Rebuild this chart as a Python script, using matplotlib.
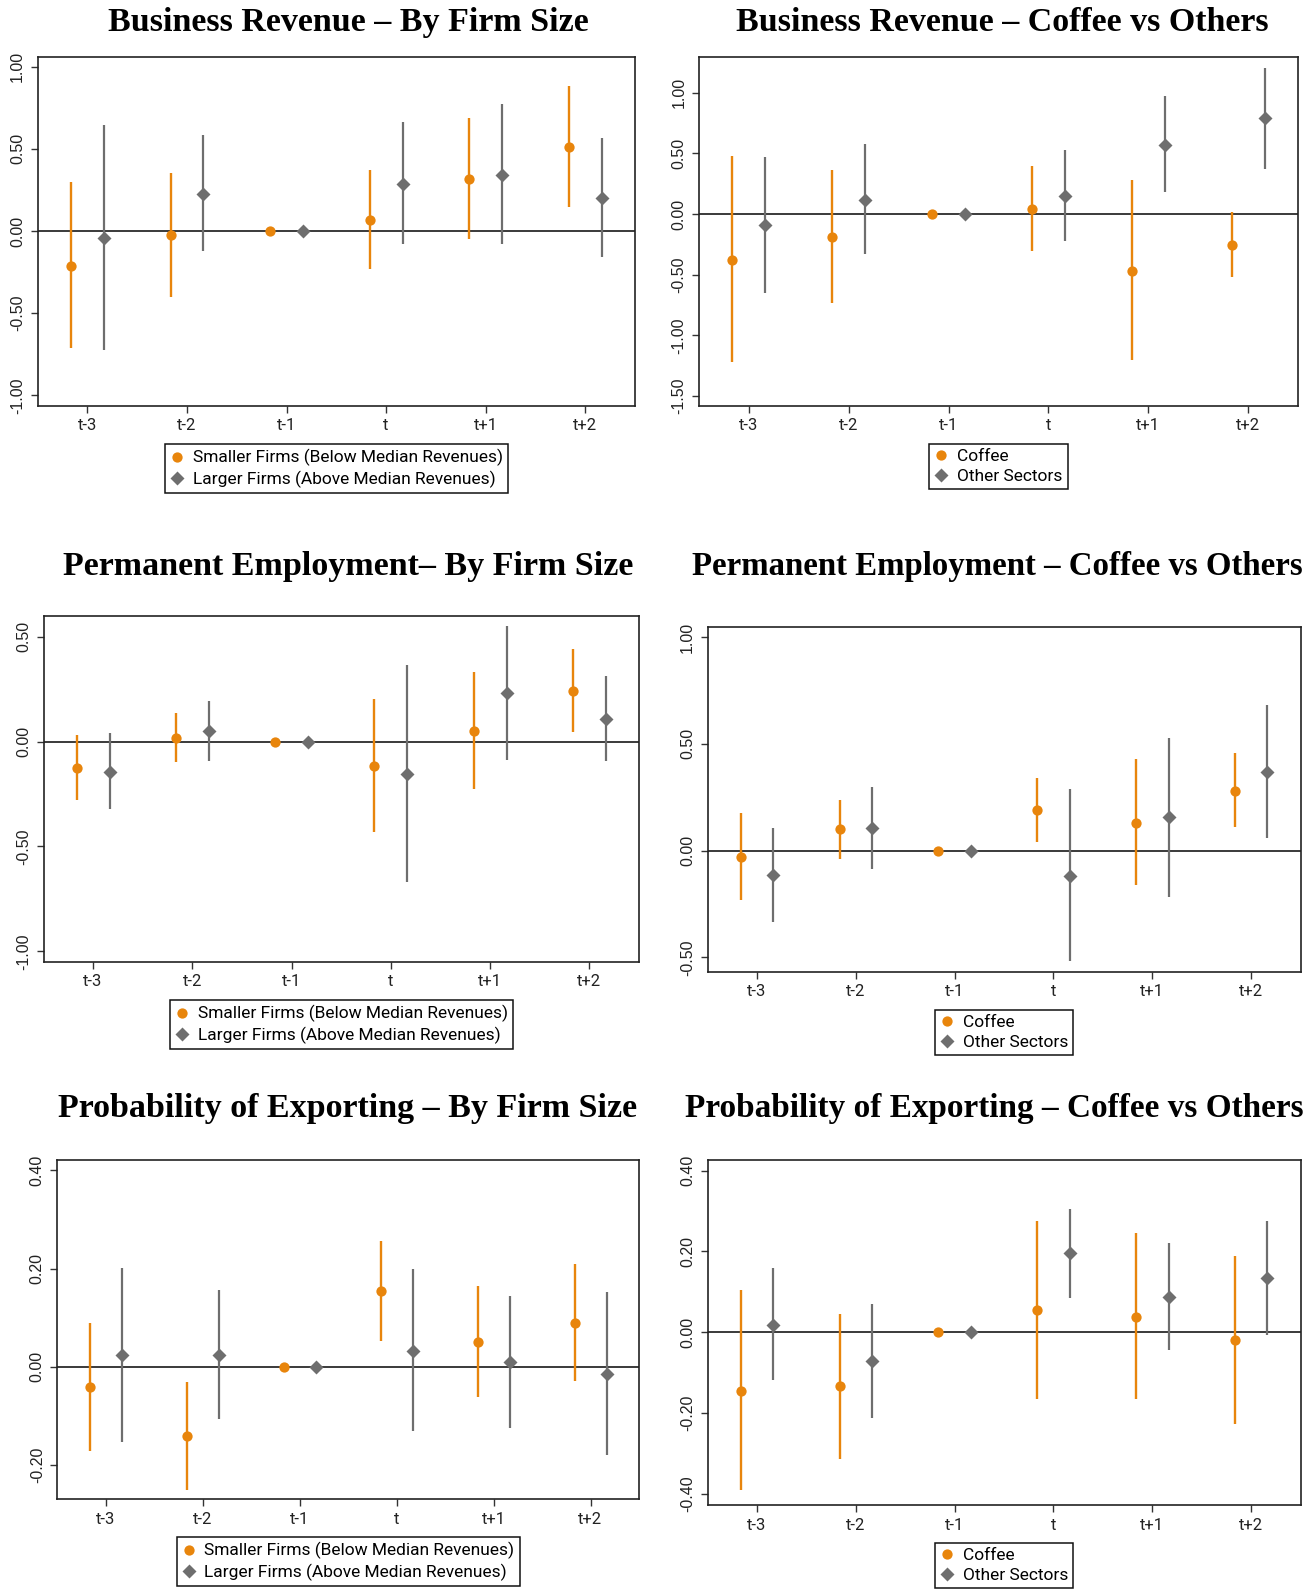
"""Event-study coefficients: revenue, permanent employment and exporting, by firm size and by sector."""

import numpy as np
import matplotlib.pyplot as plt

plt.rcParams["axes.unicode_minus"] = False

periods = ["t-3", "t-2", "t-1", "t", "t+1", "t+2"]
size_labels = ["Smaller Firms (Below Median Revenues)", "Larger Firms (Above Median Revenues)"]
sector_labels = ["Coffee", "Other Sectors"]

# Business revenue, by firm size
rev_small = [-0.211, -0.026, 0.0, 0.065, 0.316, 0.513]
rev_small_lo = [-0.714, -0.400, 0.0, -0.233, -0.047, 0.148]
rev_small_hi = [0.300, 0.351, 0.0, 0.369, 0.686, 0.882]
rev_large = [-0.041, 0.227, 0.0, 0.288, 0.343, 0.201]
rev_large_lo = [-0.724, -0.122, 0.0, -0.081, -0.077, -0.160]
rev_large_hi = [0.645, 0.584, 0.0, 0.661, 0.771, 0.566]

# Business revenue, coffee vs others
rev_coffee = [-0.376, -0.190, 0.0, 0.044, -0.467, -0.258]
rev_coffee_lo = [-1.223, -0.731, 0.0, -0.302, -1.203, -0.522]
rev_coffee_hi = [0.478, 0.360, 0.0, 0.398, 0.280, 0.016]
rev_other = [-0.093, 0.118, 0.0, 0.148, 0.569, 0.788]
rev_other_lo = [-0.648, -0.327, 0.0, -0.220, 0.184, 0.374]
rev_other_hi = [0.470, 0.577, 0.0, 0.525, 0.970, 1.206]

# Permanent employment, by firm size
emp_small = [-0.124, 0.019, 0.0, -0.114, 0.052, 0.242]
emp_small_lo = [-0.277, -0.095, 0.0, -0.429, -0.224, 0.045]
emp_small_hi = [0.032, 0.138, 0.0, 0.204, 0.331, 0.440]
emp_large = [-0.143, 0.049, 0.0, -0.154, 0.231, 0.110]
emp_large_lo = [-0.320, -0.094, 0.0, -0.671, -0.087, -0.094]
emp_large_hi = [0.040, 0.192, 0.0, 0.366, 0.550, 0.313]

# Permanent employment, coffee vs others
emp_coffee = [-0.031, 0.100, 0.0, 0.189, 0.129, 0.281]
emp_coffee_lo = [-0.232, -0.037, 0.0, 0.042, -0.162, 0.112]
emp_coffee_hi = [0.176, 0.239, 0.0, 0.340, 0.427, 0.456]
emp_other = [-0.115, 0.105, 0.0, -0.117, 0.156, 0.368]
emp_other_lo = [-0.332, -0.084, 0.0, -0.518, -0.215, 0.061]
emp_other_hi = [0.106, 0.298, 0.0, 0.289, 0.526, 0.682]

# Probability of exporting, by firm size
exp_small = [-0.041, -0.141, 0.0, 0.154, 0.050, 0.090]
exp_small_lo = [-0.171, -0.250, 0.0, 0.053, -0.062, -0.028]
exp_small_hi = [0.090, -0.031, 0.0, 0.256, 0.164, 0.210]
exp_large = [0.024, 0.024, 0.0, 0.033, 0.010, -0.014]
exp_large_lo = [-0.153, -0.106, 0.0, -0.131, -0.124, -0.180]
exp_large_hi = [0.202, 0.156, 0.0, 0.199, 0.144, 0.153]

# Probability of exporting, coffee vs others
exp_coffee = [-0.145, -0.134, 0.0, 0.054, 0.038, -0.019]
exp_coffee_lo = [-0.391, -0.313, 0.0, -0.166, -0.166, -0.226]
exp_coffee_hi = [0.105, 0.045, 0.0, 0.276, 0.245, 0.189]
exp_other = [0.019, -0.072, 0.0, 0.195, 0.088, 0.134]
exp_other_lo = [-0.119, -0.211, 0.0, 0.086, -0.043, -0.006]
exp_other_hi = [0.159, 0.071, 0.0, 0.305, 0.222, 0.276]

W, H = 1304, 1592
ORANGE = "#e8850c"
GREY = "#6e6e6e"
ytick_font = ["Liberation Sans Narrow", "Liberation Sans"]

fig = plt.figure(figsize=(W / 100, H / 100), dpi=100)
renderer = fig.canvas.get_renderer()


def panel(box, title, title_xy, title_ha, a, b, labels, yticks, ylim):
    l, t, r, btm = box
    ax = fig.add_axes([l / W, 1 - btm / H, (r - l) / W, (btm - t) / H])
    x = np.arange(1, len(periods) + 1)
    off = 0.165
    ax.axhline(0, color="#2b2b2b", lw=1.3, zorder=1)
    ax.vlines(x - off, a[1], a[2], color=ORANGE, lw=1.7, zorder=2)
    ax.vlines(x + off, b[1], b[2], color=GREY, lw=1.6, zorder=2)
    ax.plot(x - off, a[0], "o", color=ORANGE, ms=7.4, mec="none", label=labels[0], zorder=3)
    ax.plot(x + off, b[0], "D", color=GREY, ms=7.2, mec="none", label=labels[1], zorder=3)

    ax.set_xlim(0.5, 6.5)
    ax.set_ylim(*ylim)
    ax.set_xticks(x)
    ax.set_xticklabels(periods, family="Roboto", fontsize=12)
    ax.set_yticks(yticks)
    ax.set_yticklabels(["%.2f" % v for v in yticks], rotation=90, va="center",
                       family=ytick_font, fontsize=11.5)
    ax.tick_params(length=5, width=1, color="#333333", labelcolor="#222222")
    ax.tick_params(axis="y", pad=4)
    ax.tick_params(axis="x", pad=4)
    for s in ax.spines.values():
        s.set_linewidth(1.2)
        s.set_color("#222222")

    gap = 38 / (btm - t)
    leg = ax.legend(loc="upper center", bbox_to_anchor=(0.5, -gap), ncol=1,
                    frameon=True, fancybox=False, framealpha=1, edgecolor="#111111",
                    borderpad=0.3, labelspacing=0.25, handlelength=0.8,
                    handletextpad=0.5, borderaxespad=0,
                    prop={"family": "Roboto", "size": 12.5})
    leg.get_frame().set_linewidth(1.1)

    txt = fig.text(title_xy[0] / W, 1 - title_xy[1] / H, title, ha=title_ha, va="baseline",
                   family="Liberation Serif", weight="bold", fontsize=24.5)
    # shrink a title that would run past the right edge of the figure
    ext = txt.get_window_extent(renderer)
    if ext.x1 > W - 3:
        txt.set_fontsize(24.5 * (W - 3 - ext.x0) / ext.width)
    return ax


panel((37.6, 57.3, 635, 406), "Business Revenue \u2013 By Firm Size", (348, 30.7), "center",
      (rev_small, rev_small_lo, rev_small_hi), (rev_large, rev_large_lo, rev_large_hi),
      size_labels, [-1.0, -0.5, 0.0, 0.5, 1.0], (-1.065, 1.057))

panel((699, 57.3, 1298, 406), "Business Revenue \u2013 Coffee vs Others", (1002, 30.7), "center",
      (rev_coffee, rev_coffee_lo, rev_coffee_hi), (rev_other, rev_other_lo, rev_other_hi),
      sector_labels, [-1.5, -1.0, -0.5, 0.0, 0.5, 1.0], (-1.582, 1.291))

panel((43.5, 616, 639, 962), "Permanent Employment\u2013 By Firm Size", (348, 575), "center",
      (emp_small, emp_small_lo, emp_small_hi), (emp_large, emp_large_lo, emp_large_hi),
      size_labels, [-1.0, -0.5, 0.0, 0.5], (-1.051, 0.599))

panel((707.6, 627, 1300.5, 972), "Permanent Employment \u2013 Coffee vs Others", (691.7, 575), "left",
      (emp_coffee, emp_coffee_lo, emp_coffee_hi), (emp_other, emp_other_lo, emp_other_hi),
      sector_labels, [-0.5, 0.0, 0.5, 1.0], (-0.568, 1.047))

panel((57.3, 1160, 639, 1499), "Probability of Exporting \u2013 By Firm Size", (348, 1117), "center",
      (exp_small, exp_small_lo, exp_small_hi), (exp_large, exp_large_lo, exp_large_hi),
      size_labels, [-0.2, 0.0, 0.2, 0.4], (-0.269, 0.421))

panel((707.6, 1160, 1300.5, 1505), "Probability of Exporting \u2013 Coffee vs Others", (684.6, 1117), "left",
      (exp_coffee, exp_coffee_lo, exp_coffee_hi), (exp_other, exp_other_lo, exp_other_hi),
      sector_labels, [-0.4, -0.2, 0.0, 0.2, 0.4], (-0.427, 0.426))

fig.savefig("out.png", dpi=100, facecolor="white")
